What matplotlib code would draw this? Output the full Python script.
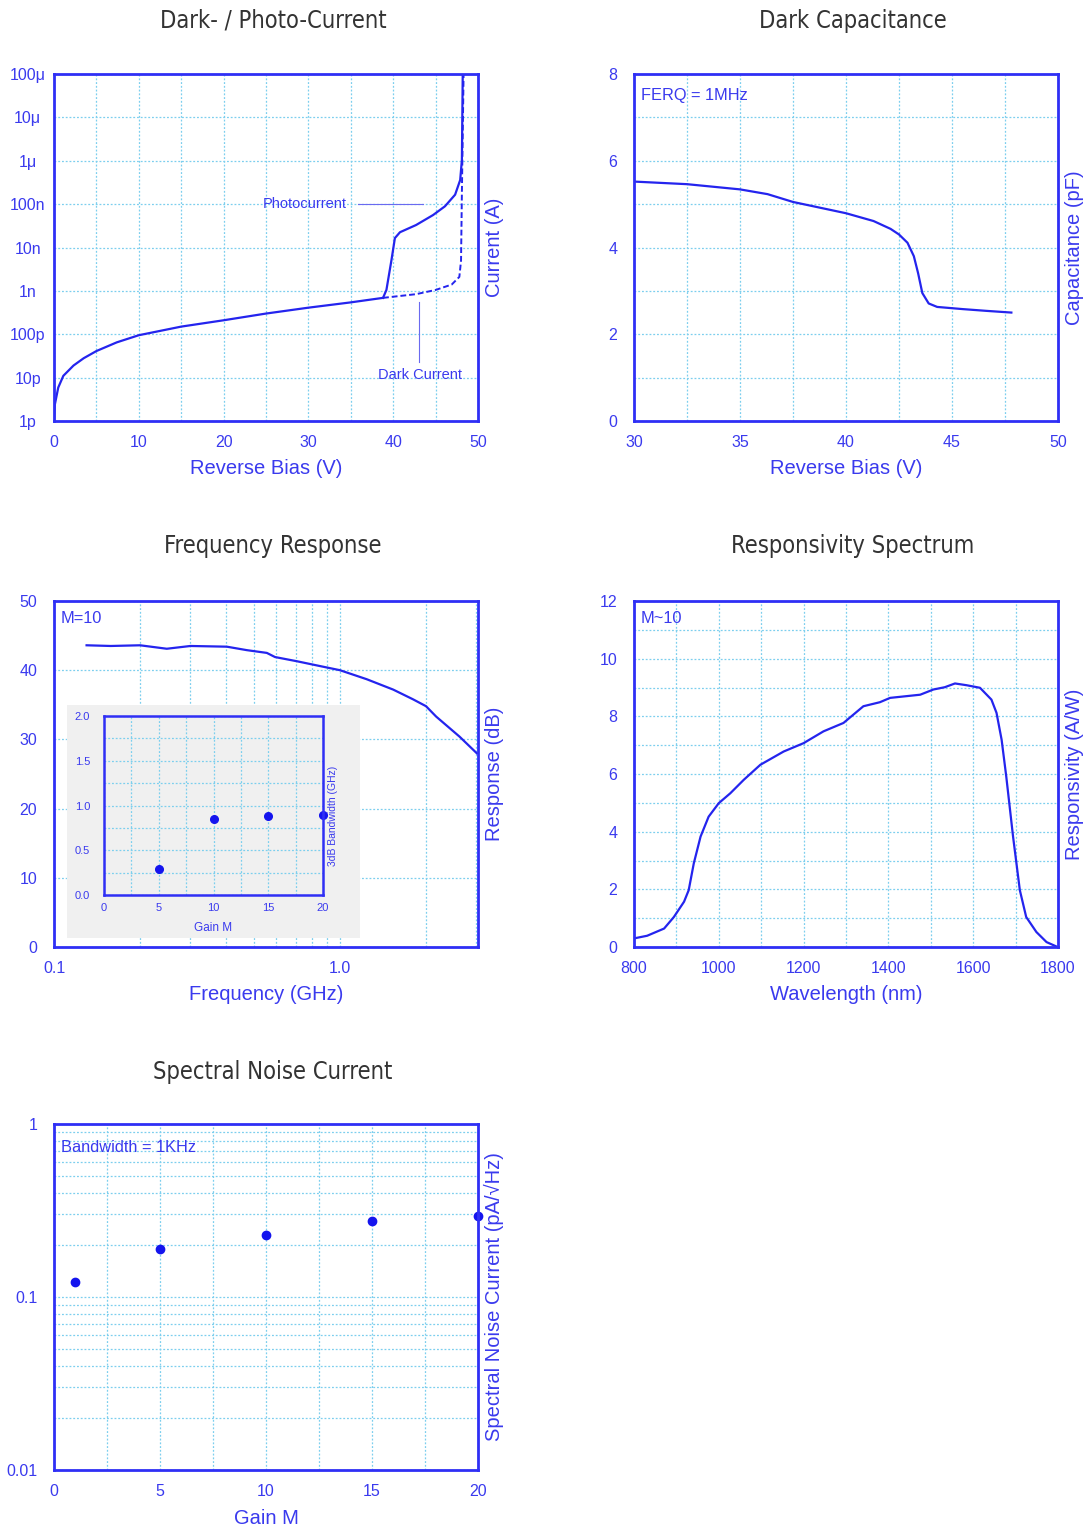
import matplotlib
matplotlib.use('Agg')
import matplotlib.pyplot as plt
from matplotlib import font_manager
from matplotlib.ticker import (MultipleLocator, FixedLocator, FixedFormatter,
                               LogLocator, NullLocator, NullFormatter)
from matplotlib.patches import Rectangle

plt.rcParams['font.family'] = ['Liberation Sans', 'DejaVu Sans']

# ---- data ----
# dark / photo current vs reverse bias
iv_bias = [0, 0.1, 0.5, 1.1, 2.3, 3.5, 5, 7.4, 10, 15, 20, 25, 30, 34.9, 38.8]
iv_current = [1e-12, 2.4e-12, 5.9e-12, 1.1e-11, 1.9e-11, 2.8e-11, 4.1e-11, 6.5e-11,
              9.5e-11, 1.5e-10, 2.1e-10, 3.0e-10, 4.1e-10, 5.4e-10, 6.9e-10]
dark_bias = [38.8, 42.7, 45, 46.9, 47.8, 48.0, 48.1, 48.3]
dark_current = [6.9e-10, 8.4e-10, 1.05e-9, 1.4e-9, 2.1e-9, 5e-9, 1.8e-7, 1e-4]
photo_bias = [38.8, 39.2, 39.8, 40.2, 40.8, 42.7, 44.7, 46.1, 47.3, 47.9, 48.1, 48.2]
photo_current = [6.9e-10, 1.05e-9, 5.2e-9, 1.65e-8, 2.25e-8, 3.3e-8, 5.6e-8, 8.9e-8,
                 1.65e-7, 3.6e-7, 1.05e-6, 1e-4]
iv_ticks = [1e-12, 1e-11, 1e-10, 1e-9, 1e-8, 1e-7, 1e-6, 1e-5, 1e-4]
iv_labels = ['1p', '10p', '100p', '1n', '10n', '100n', '1\u03bc', '10\u03bc', '100\u03bc']

# dark capacitance
cap_bias = [30.0, 32.5, 35, 36.3, 37.5, 40, 41.3, 42.1, 42.5, 42.9, 43.2, 43.4, 43.6,
            43.9, 44.3, 45.5, 46.6, 47.8]
cap_pf = [5.52, 5.46, 5.34, 5.23, 5.05, 4.79, 4.61, 4.43, 4.30, 4.11, 3.80, 3.41, 2.95,
          2.71, 2.63, 2.58, 2.54, 2.50]

# frequency response (M=10)
freq_ghz = [0.130, 0.158, 0.2, 0.248, 0.3, 0.402, 0.472, 0.555, 0.593, 0.706, 0.851,
            1.0, 1.24, 1.535, 1.80, 2.0, 2.17, 2.62, 3.01]
resp_db = [43.6, 43.5, 43.6, 43.1, 43.5, 43.4, 42.9, 42.5, 41.9, 41.3, 40.6, 40.0,
           38.7, 37.2, 35.8, 34.8, 33.3, 30.4, 28.0]

# inset: 3dB bandwidth vs gain
bw_gain = [5, 10, 15, 20]
bw_ghz = [0.29, 0.85, 0.88, 0.89]

# responsivity spectrum (M~10)
wl_nm = [804, 831, 871, 894, 918, 929, 941, 957, 976, 1000, 1027, 1059, 1098, 1153,
         1200, 1247, 1294, 1341, 1380, 1404, 1475, 1506, 1533, 1557, 1584, 1616, 1643,
         1655, 1667, 1678, 1694, 1710, 1725, 1749, 1773, 1796]
resp_aw = [0.31, 0.39, 0.64, 1.04, 1.57, 1.97, 2.90, 3.83, 4.52, 4.99, 5.33, 5.80, 6.32,
           6.78, 7.07, 7.48, 7.77, 8.35, 8.49, 8.64, 8.75, 8.93, 9.01, 9.14, 9.08, 8.99,
           8.58, 8.12, 7.19, 5.91, 3.83, 1.97, 1.04, 0.52, 0.17, 0.02]

# spectral noise current
noise_gain = [1, 5, 10, 15, 20]
noise_pa = [0.122, 0.189, 0.229, 0.274, 0.293]

W, H = 1089, 1530
BLUE = '#2424ee'
SPINE = '#2f2ff5'
TEXT = '#3a3aee'
GRID = '#7ccfee'

# titles are set in a narrow face; use whatever condensed font is installed
title_prop = None
for f in font_manager.fontManager.ttflist:
    narrow = ('Condensed' in f.name or 'Narrow' in f.name
              or f.stretch in ('condensed', 'semi-condensed', 'extra-condensed'))
    if narrow and f.weight in (300, 400, 'normal', 'regular', 'light') and f.style == 'normal':
        title_prop = font_manager.FontProperties(fname=f.fname, size=17)
        break
if title_prop is None:
    title_prop = font_manager.FontProperties(family='Liberation Sans', size=16)

fig = plt.figure(figsize=(W / 100, H / 100), dpi=100)


def make_axes(l, t, r, b):
    return fig.add_axes([l / W, 1 - b / H, (r - l) / W, (b - t) / H])


def style(ax, ylab_pad=12, lw=2.0, size=11.5):
    for s in ax.spines.values():
        s.set_color(SPINE)
        s.set_linewidth(lw)
    ax.tick_params(which='both', length=0, colors=TEXT, labelsize=size)
    ax.tick_params(axis='x', pad=10)
    ax.tick_params(axis='y', pad=ylab_pad)
    ax.grid(which='both', color=GRID, linestyle=(0, (1.5, 1.5)), linewidth=0.9)
    ax.set_axisbelow(True)


def labels(ax, xlab, ylab, h, size=14.5):
    ax.set_xlabel(xlab, color=TEXT, fontsize=size)
    ax.xaxis.set_label_coords(0.5, -48 / h)
    ax.xaxis.label.set_va('center')
    ax.set_ylabel(ylab, color=TEXT, fontsize=size)
    ax.yaxis.set_label_position('right')
    ax.yaxis.set_label_coords(1.038, 0.5)
    ax.yaxis.label.set_va('center')
    ax.yaxis.label.set_ha('center')


def title(x, y, s):
    fig.text(x / W, 1 - y / H, s, ha='center', va='center',
             color='#333333', fontproperties=title_prop)


# ---- Dark- / Photo-Current ----
ax1 = make_axes(54, 74, 478, 421)
style(ax1, ylab_pad=19)
ax1.set_yscale('log')
ax1.plot(iv_bias, iv_current, color=BLUE, lw=1.6)
ax1.plot(dark_bias, dark_current, color=BLUE, lw=1.4, ls=(0, (3, 1.5)))
ax1.plot(photo_bias, photo_current, color=BLUE, lw=1.6)
ax1.set_xlim(0, 50)
ax1.set_ylim(1e-12, 1e-4)
ax1.xaxis.set_major_locator(MultipleLocator(10))
ax1.xaxis.set_minor_locator(MultipleLocator(5))
ax1.yaxis.set_major_locator(FixedLocator(iv_ticks))
ax1.yaxis.set_major_formatter(FixedFormatter(iv_labels))
ax1.yaxis.set_minor_locator(NullLocator())
for t in ax1.get_yticklabels():
    t.set_ha('center')
ax1.text(24.6, 1e-7, 'Photocurrent', color=TEXT, fontsize=10.5, va='center', ha='left')
ax1.plot([35.8, 43.5], [1e-7, 1e-7], color='#6a6af0', lw=0.8)
ax1.text(43.2, 1.15e-11, 'Dark Current', color=TEXT, fontsize=10.5, va='center', ha='center')
ax1.plot([43.1, 43.1], [5.5e-10, 2.3e-11], color='#6a6af0', lw=0.8)
labels(ax1, 'Reverse Bias (V)', 'Current (A)', 347)
title(273, 21, 'Dark- / Photo-Current')

# ---- Dark Capacitance ----
ax2 = make_axes(634, 74, 1058, 421)
style(ax2)
ax2.plot(cap_bias, cap_pf, color=BLUE, lw=1.6)
ax2.set_xlim(30, 50)
ax2.set_ylim(0, 8)
ax2.xaxis.set_major_locator(MultipleLocator(5))
ax2.xaxis.set_minor_locator(MultipleLocator(2.5))
ax2.yaxis.set_major_locator(MultipleLocator(2))
ax2.yaxis.set_minor_locator(MultipleLocator(1))
ax2.text(0.0165, 0.937, 'FERQ = 1MHz', transform=ax2.transAxes, color=TEXT,
         fontsize=11.8, va='center', ha='left')
labels(ax2, 'Reverse Bias (V)', 'Capacitance (pF)', 347)
title(853, 21, 'Dark Capacitance')

# ---- Frequency Response ----
ax3 = make_axes(54, 601, 478, 947)
style(ax3)
ax3.set_xscale('log')
ax3.plot(freq_ghz, resp_db, color=BLUE, lw=1.6)
ax3.set_xlim(0.1, 3.04)
ax3.set_ylim(0, 50)
ax3.xaxis.set_major_locator(FixedLocator([0.1, 1.0]))
ax3.xaxis.set_major_formatter(FixedFormatter(['0.1', '1.0']))
ax3.xaxis.set_minor_locator(LogLocator(base=10, subs=range(2, 10)))
ax3.xaxis.set_minor_formatter(NullFormatter())
ax3.yaxis.set_major_locator(MultipleLocator(10))
ax3.yaxis.set_minor_locator(NullLocator())
ax3.text(0.0165, 0.948, 'M=10', transform=ax3.transAxes, color=TEXT,
         fontsize=11.8, va='center', ha='left')
labels(ax3, 'Frequency (GHz)', 'Response (dB)', 346)
title(273, 546, 'Frequency Response')

# inset panel
fig.add_artist(Rectangle((67 / W, 1 - 938 / H), (360 - 67) / W, (938 - 705) / H,
                         transform=fig.transFigure, facecolor='#f0f0f0',
                         edgecolor='none', zorder=1))
axi = make_axes(104, 716, 323, 895)
axi.set_zorder(2)
axi.set_facecolor('#f0f0f0')
style(axi, ylab_pad=10, lw=1.8, size=8)
axi.tick_params(axis='x', pad=6)
axi.plot(bw_gain, bw_ghz, 'o', color='#1414ee', ms=5.5, clip_on=False)
axi.set_xlim(0, 20)
axi.set_ylim(0, 2)
axi.xaxis.set_major_locator(MultipleLocator(5))
axi.xaxis.set_minor_locator(MultipleLocator(2.5))
axi.yaxis.set_major_locator(MultipleLocator(0.5))
axi.yaxis.set_minor_locator(MultipleLocator(0.25))
axi.yaxis.set_major_formatter(plt.FormatStrFormatter('%.1f'))
axi.set_xlabel('Gain M', color=TEXT, fontsize=8.5)
axi.xaxis.set_label_coords(0.5, -0.184)
axi.xaxis.label.set_va('center')
axi.set_ylabel('3dB Bandwidth (GHz)', color=TEXT, fontsize=7.5)
axi.yaxis.set_label_position('right')
axi.yaxis.set_label_coords(1.045, 0.44)
axi.yaxis.label.set_va('center')
axi.yaxis.label.set_ha('center')

# ---- Responsivity Spectrum ----
ax4 = make_axes(634, 601, 1058, 947)
style(ax4)
ax4.plot(wl_nm, resp_aw, color=BLUE, lw=1.6)
ax4.set_xlim(800, 1800)
ax4.set_ylim(0, 12)
ax4.xaxis.set_major_locator(MultipleLocator(200))
ax4.xaxis.set_minor_locator(MultipleLocator(100))
ax4.yaxis.set_major_locator(MultipleLocator(2))
ax4.yaxis.set_minor_locator(MultipleLocator(1))
ax4.text(0.0165, 0.948, 'M~10', transform=ax4.transAxes, color=TEXT,
         fontsize=11.8, va='center', ha='left')
labels(ax4, 'Wavelength (nm)', 'Responsivity (A/W)', 346)
title(853, 546, 'Responsivity Spectrum')

# ---- Spectral Noise Current ----
ax5 = make_axes(54, 1124, 478, 1470)
style(ax5)
ax5.set_yscale('log')
ax5.plot(noise_gain, noise_pa, 'o', color='#1414ee', ms=6, clip_on=False)
ax5.set_xlim(0, 20)
ax5.set_ylim(0.01, 1)
ax5.xaxis.set_major_locator(MultipleLocator(5))
ax5.xaxis.set_minor_locator(MultipleLocator(2.5))
ax5.yaxis.set_major_locator(FixedLocator([0.01, 0.1, 1]))
ax5.yaxis.set_major_formatter(FixedFormatter(['0.01', '0.1', '1']))
ax5.yaxis.set_minor_locator(LogLocator(base=10, subs=range(2, 10)))
ax5.yaxis.set_minor_formatter(NullFormatter())
ax5.text(0.0165, 0.931, 'Bandwidth = 1KHz', transform=ax5.transAxes, color=TEXT,
         fontsize=11.8, va='center', ha='left')
labels(ax5, 'Gain M', 'Spectral Noise Current (pA/\u221aHz)', 346)
title(273, 1072, 'Spectral Noise Current')

fig.savefig('out.png', dpi=100)
